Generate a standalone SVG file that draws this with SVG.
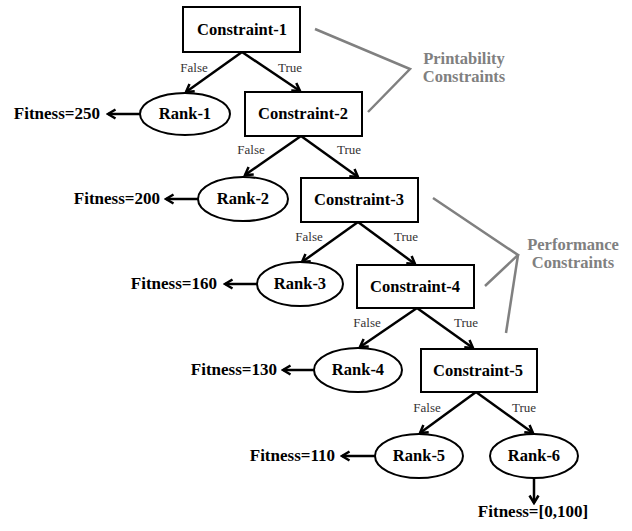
<svg xmlns="http://www.w3.org/2000/svg" width="632" height="531" viewBox="0 0 632 531">
<style>
  .box { fill: #fff; stroke: #000; stroke-width: 2; }
  .oval { fill: #fff; stroke: #000; stroke-width: 2; }
  .t { font-family: "Liberation Serif", "Times New Roman", serif; font-weight: bold; font-size: 16.5px; fill: #000; }
  .f { font-size: 17px; }
  .c { text-anchor: middle; }
  .e { text-anchor: end; }
  .lbl { font-family: "Liberation Serif", "Times New Roman", serif; font-size: 13px; fill: #333; text-anchor: middle; }
  .edge { stroke: #000; stroke-width: 2.5; fill: none; marker-end: url(#arr); }
  .brk { stroke: #808080; stroke-width: 2.5; fill: none; }
  .grp { font-family: "Liberation Serif", "Times New Roman", serif; font-weight: bold; font-size: 16.5px; fill: #808080; text-anchor: middle; }
</style>
<defs>
  <marker id="arr" markerUnits="userSpaceOnUse" markerWidth="12" markerHeight="12" refX="10" refY="6" orient="auto" viewBox="0 0 12 12">
    <path d="M2.5,1.5 L10,6 L2.5,10.5" fill="none" stroke="#000" stroke-width="2.5" stroke-linejoin="miter"/>
  </marker>
</defs>
<rect width="632" height="531" fill="#fff"/>

<g id="connectors">
  <line class="edge" x1="242" y1="52" x2="186" y2="92"/>
  <line class="edge" x1="242" y1="52" x2="300" y2="91"/>
  <line class="edge" x1="301" y1="136" x2="245" y2="175"/>
  <line class="edge" x1="301" y1="136" x2="358" y2="177"/>
  <line class="edge" x1="358" y1="222" x2="302" y2="262"/>
  <line class="edge" x1="358" y1="222" x2="415" y2="264"/>
  <line class="edge" x1="417" y1="308" x2="360" y2="347"/>
  <line class="edge" x1="417" y1="308" x2="473" y2="348"/>
  <line class="edge" x1="476" y1="392" x2="420" y2="433"/>
  <line class="edge" x1="476" y1="392" x2="533" y2="433"/>
  <line class="edge" x1="140" y1="114" x2="108" y2="114"/>
  <line class="edge" x1="198" y1="199" x2="166" y2="199"/>
  <line class="edge" x1="257" y1="284" x2="225" y2="284"/>
  <line class="edge" x1="314" y1="370" x2="283" y2="370"/>
  <line class="edge" x1="375" y1="456" x2="342" y2="456"/>
  <line class="edge" x1="534" y1="478" x2="534" y2="503"/>
</g>

<g id="labels">
  <text class="lbl" x="194" y="72">False</text>
  <text class="lbl" x="290" y="72">True</text>
  <text class="lbl" x="251" y="154">False</text>
  <text class="lbl" x="349" y="154">True</text>
  <text class="lbl" x="309" y="241">False</text>
  <text class="lbl" x="406" y="241">True</text>
  <text class="lbl" x="367" y="327">False</text>
  <text class="lbl" x="466" y="327">True</text>
  <text class="lbl" x="427" y="412">False</text>
  <text class="lbl" x="524" y="412">True</text>
</g>

<g id="constraint-1"><rect class="box" x="183" y="7" width="117" height="45"/><text class="t c" x="242" y="35">Constraint-1</text></g>
<g id="constraint-2"><rect class="box" x="245" y="92" width="117" height="44"/><text class="t c" x="303" y="119">Constraint-2</text></g>
<g id="constraint-3"><rect class="box" x="301" y="178" width="117" height="44"/><text class="t c" x="359" y="205">Constraint-3</text></g>
<g id="constraint-4"><rect class="box" x="357" y="265" width="117" height="43"/><text class="t c" x="415" y="292">Constraint-4</text></g>
<g id="constraint-5"><rect class="box" x="421" y="349" width="116" height="43"/><text class="t c" x="478" y="376">Constraint-5</text></g>

<g id="rank-1"><ellipse class="oval" cx="185" cy="114" rx="45" ry="21"/><text class="t c" x="185" y="119">Rank-1</text></g>
<g id="rank-2"><ellipse class="oval" cx="243" cy="199" rx="45" ry="22"/><text class="t c" x="243" y="204">Rank-2</text></g>
<g id="rank-3"><ellipse class="oval" cx="300" cy="284" rx="43" ry="22"/><text class="t c" x="300" y="289">Rank-3</text></g>
<g id="rank-4"><ellipse class="oval" cx="358" cy="370" rx="44" ry="22"/><text class="t c" x="358" y="375">Rank-4</text></g>
<g id="rank-5"><ellipse class="oval" cx="419" cy="456" rx="44" ry="22"/><text class="t c" x="419" y="461">Rank-5</text></g>
<g id="rank-6"><ellipse class="oval" cx="534" cy="456" rx="44" ry="22"/><text class="t c" x="534" y="461">Rank-6</text></g>

<g id="fitness-250"><text class="t f e" x="100" y="119">Fitness=250</text></g>
<g id="fitness-200"><text class="t f e" x="160" y="204">Fitness=200</text></g>
<g id="fitness-160"><text class="t f e" x="217" y="289">Fitness=160</text></g>
<g id="fitness-130"><text class="t f e" x="277" y="375">Fitness=130</text></g>
<g id="fitness-110"><text class="t f e" x="335" y="461">Fitness=110</text></g>
<g id="fitness-0-100"><text class="t f c" x="533" y="517">Fitness=[0,100]</text></g>

<g id="printability">
  <polyline class="brk" points="315,29 410,69 368,112"/>
  <text class="grp" x="464" y="64">Printability</text>
  <text class="grp" x="464" y="82">Constraints</text>
</g>
<g id="performance">
  <polyline class="brk" points="433,198 518,255 485,286"/>
  <line class="brk" x1="518" y1="255" x2="506" y2="333"/>
  <text class="grp" x="573" y="250">Performance</text>
  <text class="grp" x="573" y="268">Constraints</text>
</g>
</svg>
